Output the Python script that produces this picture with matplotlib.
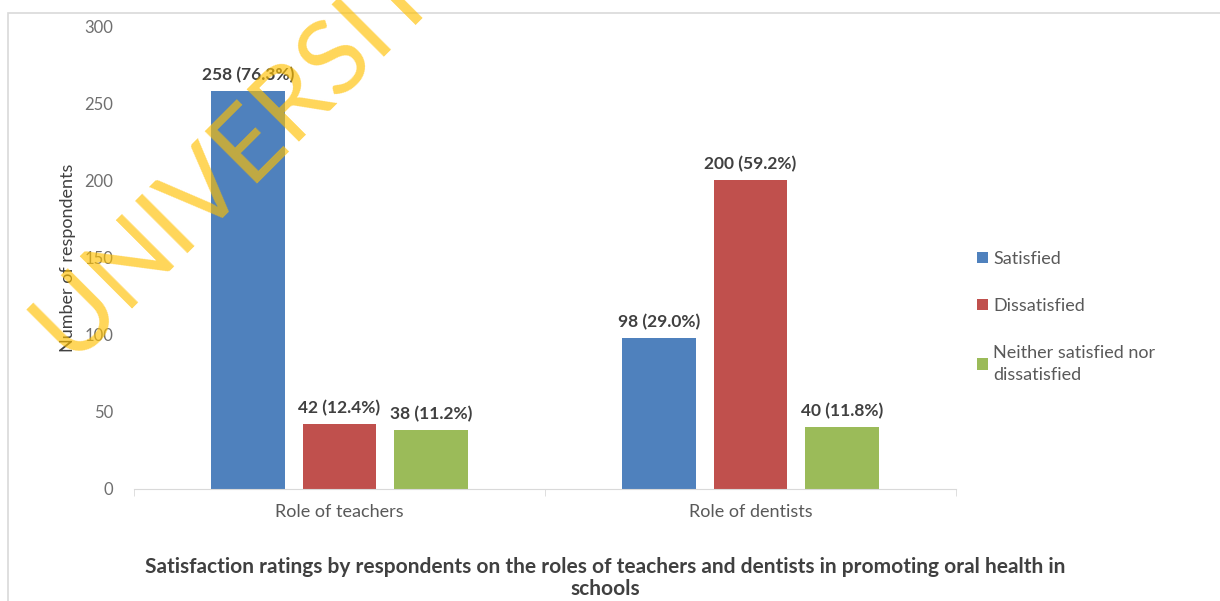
import matplotlib
matplotlib.use("Agg")
import matplotlib.pyplot as plt
from matplotlib.patches import Rectangle
import numpy as np

plt.rcParams["font.family"] = ["Lato", "DejaVu Sans"]

kategoriyalar = ["Role of teachers", "Role of dentists"]
seriyalar = ["Satisfied", "Dissatisfied", "Neither satisfied nor\ndissatisfied"]
qiymatlar = [
    [258, 98],
    [42, 200],
    [38, 40],
]
foizlar = [
    [76.3, 29.0],
    [12.4, 59.2],
    [11.2, 11.8],
]
ranglar = ["#4F81BD", "#C0504D", "#9BBB59"]
sarlavha = ("Satisfaction ratings by respondents on the roles of teachers and dentists in promoting oral health in\n"
            "schools")

fig = plt.figure(figsize=(12.2, 6.01), dpi=100)
ax = fig.add_axes([0.1098, 0.1864, 0.6738, 0.7703])

x = np.arange(len(kategoriyalar))
kenglik = 0.178
siljish = [-0.2226, 0.0, 0.2226]

for i, nom in enumerate(seriyalar):
    ustunlar = ax.bar(x + siljish[i], qiymatlar[i], width=kenglik, color=ranglar[i], label=nom, zorder=2)
    for b, v, p in zip(ustunlar, qiymatlar[i], foizlar[i]):
        ax.text(b.get_x() + b.get_width() / 2, v + 5, f"{v} ({p:.1f}%)",
                ha="center", va="bottom", fontsize=12.5, fontweight="bold", color="#404040")

ax.set_xlim(-0.5, 1.5)
ax.set_ylim(0, 300)
ax.set_yticks(range(0, 301, 50))
ax.set_xticks(x)
ax.set_xticklabels(kategoriyalar)
ax.set_xticks([-0.5, 0.5, 1.5], minor=True)
ax.tick_params(axis="x", which="major", length=0, pad=11, labelsize=13, labelcolor="#595959")
ax.tick_params(axis="x", which="minor", length=5, color="#D9D9D9", direction="out")
ax.tick_params(axis="y", length=0, pad=15, labelsize=12, labelcolor="#6F6F6F")

for s in ["left", "top", "right"]:
    ax.spines[s].set_visible(False)
ax.spines["bottom"].set_color("#D9D9D9")

ax.set_ylabel("Number of respondents", fontsize=13, color="#404040")
ax.yaxis.set_label_coords(-0.0706, 0.5)

leg = ax.legend(loc="upper left", bbox_to_anchor=(1.0255, 0.514), frameon=False,
                fontsize=13, handlelength=0.6, handleheight=0.6, handletextpad=0.3,
                labelspacing=1.72, borderaxespad=0, borderpad=0)
for t in leg.get_texts():
    t.set_color("#595959")
leg.get_texts()[2].set_linespacing(1.45)

fig.text(0.496, 0.038, sarlavha, ha="center", va="center", fontsize=15,
         fontweight="bold", color="#404040", linespacing=1.15)

# chegara
fig.patches.append(Rectangle((8 / 1220, -0.05), 1.1, 1 - 13 / 601 + 0.05, transform=fig.transFigure,
                             fill=False, edgecolor="#D9D9D9", linewidth=1.2, zorder=0))

# suv belgisi
fig.text(70 / 1220, 1 - 362 / 601, "UNIVERSITY", rotation=45, rotation_mode="anchor",
         ha="left", va="baseline", fontsize=74, family=["Liberation Sans Narrow", "Lato"],
         color="#FFC000", alpha=0.65, zorder=10)

fig.savefig("out.png", dpi=100)
